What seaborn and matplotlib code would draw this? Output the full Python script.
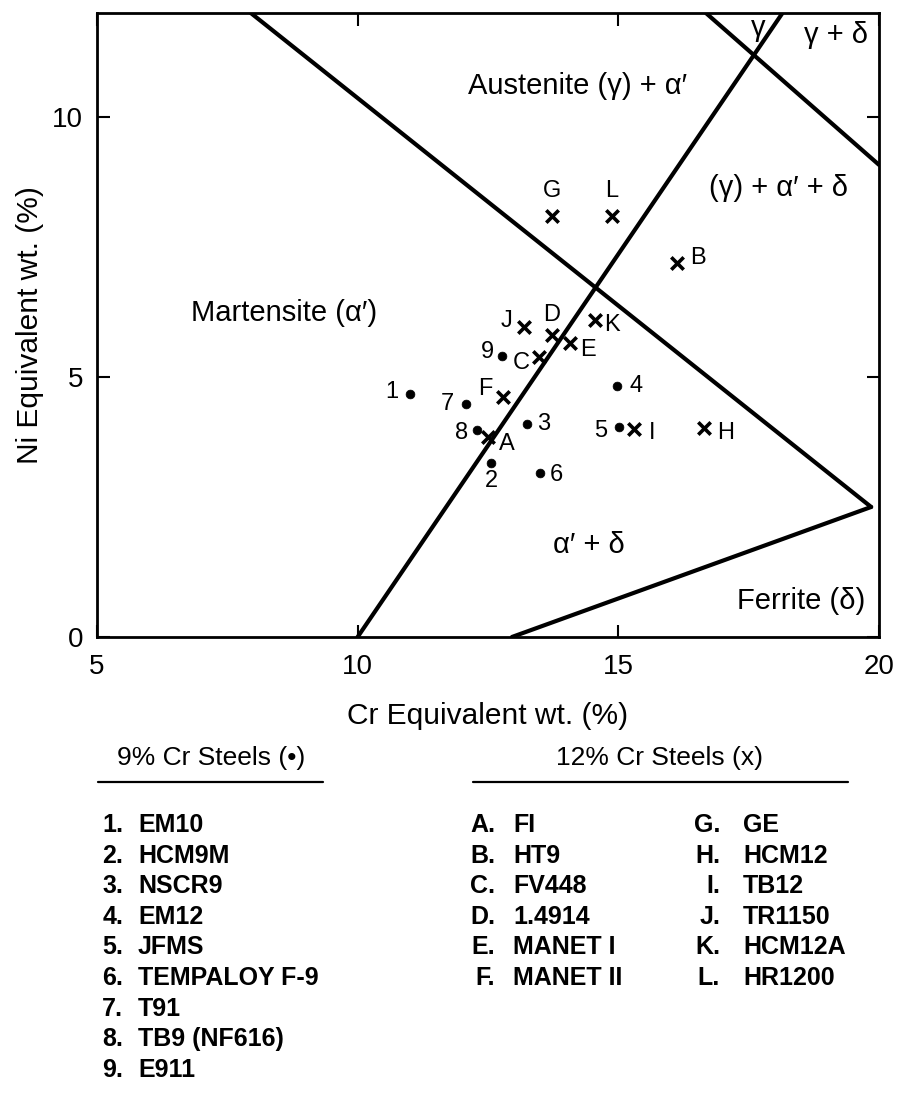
import numpy as np
import pandas as pd
import matplotlib
matplotlib.use("Agg")
import matplotlib.pyplot as plt
import seaborn as sns
from matplotlib.lines import Line2D

# ---------------- data ----------------
cr9_labels = ["1", "2", "3", "4", "5", "6", "7", "8", "9"]
cr9_x = [11.01, 12.55, 13.25, 14.98, 15.01, 13.49, 12.07, 12.29, 12.77]
cr9_y = [4.67, 3.34, 4.10, 4.83, 4.03, 3.15, 4.48, 3.98, 5.40]
cr9_names = ["EM10", "HCM9M", "NSCR9", "EM12", "JFMS", "TEMPALOY F-9",
             "T91", "TB9 (NF616)", "E911"]

cr12_labels = ["A", "B", "C", "D", "E", "F", "G", "H", "I", "J", "K", "L"]
cr12_x = [12.51, 16.12, 13.48, 13.73, 14.08, 12.79, 13.72, 16.64, 15.30, 13.19, 14.56, 14.87]
cr12_y = [3.85, 7.19, 5.39, 5.81, 5.65, 4.62, 8.10, 4.02, 4.00, 5.96, 6.10, 8.10]
cr12_names = ["FI", "HT9", "FV448", "1.4914", "MANET I", "MANET II",
              "GE", "HCM12", "TB12", "TR1150", "HCM12A", "HR1200"]

# phase boundary lines (end points)
bound_ids = ["mart_aust", "mart_ferr", "gam_delta", "ferr"]
bound_x = [[7.95, 19.85], [10.0, 18.15], [16.68, 20.0], [12.96, 19.85]]
bound_y = [[12.0, 2.5], [0.0, 12.0], [12.0, 9.08], [0.0, 2.5]]

region_texts = ["Austenite (\u03b3) + \u03b1\u2032", "\u03b3", "\u03b3 + \u03b4",
                "(\u03b3) + \u03b1\u2032 + \u03b4", "Martensite (\u03b1\u2032)",
                "\u03b1\u2032 + \u03b4", "Ferrite (\u03b4)"]
region_x = [14.22, 17.68, 19.17, 18.08, 8.59, 14.43, 18.50]
region_y = [10.60, 11.71, 11.58, 8.63, 6.23, 1.77, 0.69]

x_ticks = [5, 10, 15, 20]
y_ticks = [0, 5, 10]

# ---------------- style ----------------
sns.set_style("ticks")
plt.rcParams["font.family"] = ["Liberation Sans", "DejaVu Sans"]
for key in ["text.color", "axes.labelcolor", "xtick.color", "ytick.color", "axes.edgecolor"]:
    plt.rcParams[key] = "black"

fig = plt.figure(figsize=(8.98, 10.99), dpi=100)
ax = fig.add_axes([0.108, 0.4204, 0.8708, 0.5678])

df_lines = pd.DataFrame({
    "line": np.repeat(bound_ids, 2),
    "x": np.concatenate(bound_x),
    "y": np.concatenate(bound_y),
})
sns.lineplot(data=df_lines, x="x", y="y", units="line", estimator=None, sort=False,
             color="black", linewidth=3.0, ax=ax, legend=False)

sns.scatterplot(x=cr9_x, y=cr9_y, marker="o", s=40, color="black",
                edgecolor="black", ax=ax, zorder=5, legend=False)
sns.scatterplot(x=cr12_x, y=cr12_y, marker="x", s=80, color="black",
                linewidth=2.6, ax=ax, zorder=5, legend=False)

# label offsets in pixels (style)
off9 = {"1": (-18, 2), "2": (1, -18), "3": (17, 0), "4": (19, 0), "5": (-18, -4),
        "6": (17, -2), "7": (-18, 0), "8": (-15, -3), "9": (-15, 4)}
off12 = {"A": (18, -7), "B": (21, 5), "C": (-18, -6), "D": (0, 20), "E": (18, -7),
         "F": (-18, 8), "G": (0, 25), "H": (22, -5), "I": (18, -4), "J": (-17, 6),
         "K": (17, -5), "L": (0, 25)}
for lab, x, y in zip(cr9_labels, cr9_x, cr9_y):
    ax.annotate(lab, (x, y), xytext=off9[lab], textcoords="offset pixels",
                ha="center", va="center", fontsize=17)
for lab, x, y in zip(cr12_labels, cr12_x, cr12_y):
    ax.annotate(lab, (x, y), xytext=off12[lab], textcoords="offset pixels",
                ha="center", va="center", fontsize=17)

for t, x, y in zip(region_texts, region_x, region_y):
    ax.text(x, y, t, ha="center", va="center", fontsize=21)

ax.set_xlim(5, 20)
ax.set_ylim(0, 12)
ax.set_xticks(x_ticks)
ax.set_yticks(y_ticks)
ax.tick_params(direction="in", length=9, width=1.5, top=True, right=True,
               labelsize=20)
ax.tick_params(axis="x", pad=12)
ax.tick_params(axis="y", pad=10)
for sp in ax.spines.values():
    sp.set_linewidth(2.0)
    sp.set_color("black")

ax.set_xlabel("Cr Equivalent wt. (%)", fontsize=21.5)
ax.set_ylabel("Ni Equivalent wt. (%)", fontsize=21.5)
ax.xaxis.label.set_va("center")
ax.xaxis.set_label_coords(0.5, -0.127)
ax.yaxis.label.set_va("center")
ax.yaxis.set_label_coords(-0.086, 0.5)

# ---------------- key below the chart ----------------
W, H = 898.0, 1099.0
def fx(px):
    return px / W
def fy(py):
    return 1 - py / H

fig.text(fx(211), fy(758), "9% Cr Steels (\u2022)", ha="center", va="center", fontsize=19)
fig.text(fx(660), fy(758), "12% Cr Steels (x)", ha="center", va="center", fontsize=19)
fig.add_artist(Line2D([fx(98), fx(323)], [fy(782), fy(782)], color="black", lw=1.6))
fig.add_artist(Line2D([fx(473), fx(848)], [fy(782), fy(782)], color="black", lw=1.6))

row0, dy = 825, 30.6
for i, (lab, name) in enumerate(zip(cr9_labels, cr9_names)):
    yy = fy(row0 + i * dy)
    fig.text(fx(123), yy, lab + ".", ha="right", va="center", fontsize=18, fontweight="bold")
    fig.text(fx(138), yy, name, ha="left", va="center", fontsize=18, fontweight="bold")
for i, (lab, name) in enumerate(zip(cr12_labels, cr12_names)):
    col, r = divmod(i, 6)
    yy = fy(row0 + r * dy)
    xr = 495 if col == 0 else 720
    xn = 513 if col == 0 else 743
    fig.text(fx(xr), yy, lab + ".", ha="right", va="center", fontsize=18, fontweight="bold")
    fig.text(fx(xn), yy, name, ha="left", va="center", fontsize=18, fontweight="bold")

fig.savefig("out.png", dpi=100)
